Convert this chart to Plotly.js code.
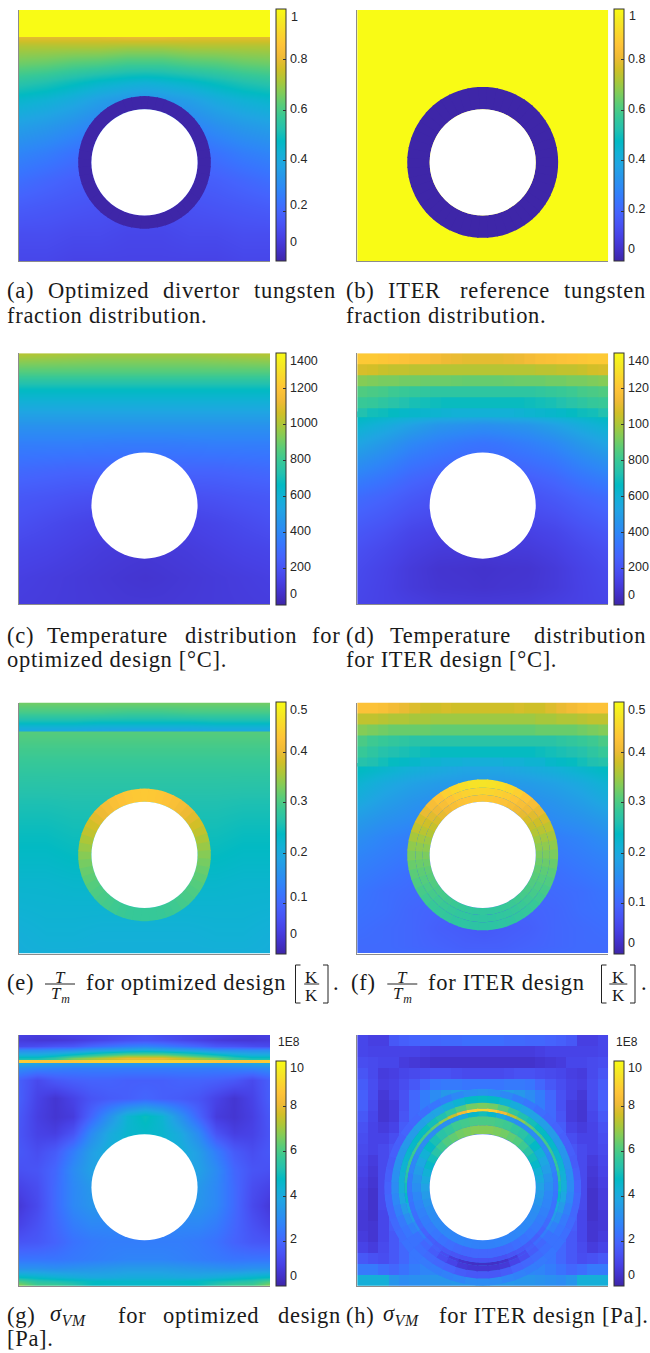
<!DOCTYPE html>
<html><head><meta charset="utf-8">
<script src="https://cdn.plot.ly/plotly-3.0.1.min.js"></script>
<style>
html,body{margin:0;padding:0;background:#fff}
.annotation-text[style*="Liberation Serif"]{letter-spacing:.7px}
</style></head><body><div id="chart" style="width:650px;height:1353px"></div>
<script>
/* parula colour table */
const parula=[[0,'rgb(62,38,168)'],[3,'rgb(67,50,203)'],[6,'rgb(71,65,229)'],[9,'rgb(72,82,244)'],[12,'rgb(69,99,253)'],[15,'rgb(56,117,254)'],[18,'rgb(46,135,247)'],[21,'rgb(39,150,235)'],[24,'rgb(32,165,227)'],[27,'rgb(18,177,214)'],[30,'rgb(2,186,195)'],[33,'rgb(36,193,174)'],[36,'rgb(55,200,151)'],[39,'rgb(87,204,122)'],[42,'rgb(129,204,89)'],[45,'rgb(171,199,57)'],[48,'rgb(209,191,39)'],[51,'rgb(240,186,54)'],[54,'rgb(254,195,56)'],[57,'rgb(250,214,45)'],[60,'rgb(245,233,36)'],[63,'rgb(249,251,21)']].map(s=>[s[0]/63,s[1]]);

/* half-width column positions (mm), mirrored about x=14 */
const cols6=[0,3,6,9,12,14];
const cols8=[0,2,4,6,8,10,12,14];
const blockCols=[0.583,1.75,2.917,4.083,5.25,6.417,7.583,8.75,9.917,11.083,12.25,13.417];

/* (a) optimized tungsten fraction */
const aBandY=[25,28];
const aBandZ=[[1,1]];
const aY=[24.95,24,22,20,18,15,12,9,6,3,0];
const aZ=[[.79,.79,.79,.79,.80,.80],[.72,.72,.72,.72,.71,.71],[.64,.63,.61,.60,.58,.58],[.54,.52,.49,.46,.44,.43],[.45,.43,.40,.36,.33,.32],[.36,.34,.31,.27,.25,.25],[.28,.26,.23,.20,.20,.20],[.22,.20,.18,.17,.16,.16],[.17,.16,.15,.14,.13,.13],[.13,.13,.12,.12,.11,.11],[.11,.11,.10,.10,.10,.10]];
/* (b) ITER tungsten fraction */
const bY=[0,28];
const bZ=[[1,1]];
/* (c) optimized temperature */
const cY=[28,26,24,22,20,18,15,12,9,6,3,0];
const cZ=[[1020,1010,1000,990,990,990],[860,860,860,860,860,860],[670,670,670,670,670,670],[560,560,560,560,560,560],[450,450,450,450,450,450],[370,370,370,365,360,360],[290,280,270,270,270,270],[225,215,200,190,190,190],[190,170,150,135,130,130],[150,140,125,110,100,95],[125,115,105,95,85,80],[115,110,105,100,95,95]];
/* (d) ITER temperature */
const dBandY=[28,26.77,25.55,24.32,23.09,21.87,20.9];
const dBandZ=[[1220,1220,1210,1200,1190,1180,1170,1150,1130,1120,1110,1110],[1080,1070,1050,1040,1040,1030,1030,1020,1020,1020,1020,1020],[940,930,920,920,910,910,900,900,900,895,890,890],[850,840,830,810,800,790,780,770,770,770,770,770],[800,790,770,750,730,710,700,690,680,680,680,680],[730,700,690,670,650,640,630,620,610,600,600,600]];
const dY=[21,20,18,16,14,12,10,8,6,4,2,0];
const dZ=[[680,650,620,590,580,570],[630,580,520,470,450,440],[540,480,410,370,340,330],[450,400,340,310,290,290],[370,330,280,250,240,240],[300,270,230,200,190,190],[260,230,190,170,160,160],[220,190,150,130,130,130],[190,160,125,105,100,95],[170,140,105,80,75,70],[160,135,105,85,80,75],[150,135,125,110,105,105]];
/* (e) optimized T/Tm */
const eBandRowsY=[28,26.9,26,25.3,24.95];
const eBandZ=[[.325,.325,.325,.325,.325,.325],[.295,.295,.295,.295,.29,.29],[.255,.255,.255,.25,.25,.25],[.215,.215,.215,.21,.21,.21],[.20,.20,.20,.195,.19,.19]];
const eY=[24.85,23,20,17,14,11,8,5,2,0];
const eZ=[[.31,.31,.31,.31,.31,.31],[.295,.295,.295,.295,.295,.295],[.275,.275,.275,.275,.275,.275],[.258,.258,.26,.26,.26,.26],[.245,.245,.25,.25,.25,.25],[.235,.235,.24,.24,.24,.24],[.225,.225,.228,.228,.228,.228],[.218,.22,.22,.22,.22,.22],[.21,.215,.215,.212,.212,.212],[.208,.21,.21,.21,.21,.21]];
/* (f) ITER T/Tm */
const fBandY=[28,26.77,25.55,24.32,23.09,21.87,20.9];
const fBandZ=[[.425,.425,.42,.41,.40,.39,.38,.38,.385,.38,.38,.38],[.37,.37,.365,.36,.36,.355,.355,.35,.35,.35,.35,.35],[.335,.33,.325,.32,.32,.32,.32,.315,.315,.315,.315,.315],[.30,.29,.285,.28,.275,.27,.27,.27,.27,.27,.27,.27],[.285,.275,.265,.26,.255,.25,.245,.24,.24,.24,.24,.24],[.265,.26,.25,.24,.235,.23,.22,.22,.215,.215,.21,.21]];
const fY=[20.5,19,17,15,13,11,9,7,5,3,1,0];
const fZ=[[.24,.225,.21,.20,.19,.19],[.22,.20,.185,.175,.17,.17],[.20,.18,.165,.155,.15,.15],[.175,.16,.15,.14,.13,.13],[.155,.14,.13,.12,.12,.12],[.14,.13,.12,.115,.11,.11],[.13,.12,.11,.105,.10,.10],[.12,.11,.105,.10,.10,.10],[.115,.11,.10,.095,.09,.09],[.11,.105,.10,.09,.085,.08],[.105,.105,.10,.095,.09,.09],[.105,.105,.105,.10,.095,.095]];
/* (g) optimized von Mises, units of 1E8 Pa */
const gBandRowsY=[28,27.4,26.8,26.3,25.8,25.4,25.2,25.16,25];
const gBandZ=[[.9,.8,.9,1,1.1,1.2,1.3,1.5],[.8,.7,.7,.8,1,1.2,1.4,1.5],[1.2,1.3,1.5,1.6,2,2.3,2.6,2.8],[3,3,3.1,3.2,3.6,3.8,4,4.2],[4.2,4.2,4.5,5,5.5,6,6.5,6.5],[5,5,5.5,6.5,7,7.5,8,8],[5.4,5.4,5.8,6.6,7,7.4,7.8,7.8],[8.8,8.6,8.6,8.6,8.8,8.9,8.9,8.9],[8.8,8.6,8.6,8.6,8.8,8.9,8.9,8.9]];
const gY=[24.9,24.3,23,21,19,17,15,13,11,9,7,5,3,2,1,.5,0];
const gZ=[[4,3.8,3.6,3.5,3.5,3.5,3.5,3.5],[3,2.8,2.7,2.6,2.6,2.6,2.6,2.6],[1.8,1.2,1.6,1.8,1.9,1.9,1.8,1.8],[1.8,1,.6,1,1.5,1.7,1.8,2],[1.6,.9,.6,.8,2,3.2,4.4,4.9],[1.5,1,.9,1.5,3,4,4.5,4.6],[1.6,1.3,1.7,2.6,3.6,4.2,4.3,4.4],[1.4,1.5,2,3,3.7,3.9,3.9,3.7],[1,1.3,2.1,2.9,3.4,3.5,3.3,3.3],[.7,1.2,2.1,2.9,3.3,3.3,3.1,3],[1,1.4,2,2.6,2.9,2.9,2.8,2.7],[1.5,1.6,1.9,2.3,2.5,2.6,2.6,2.6],[2.4,2.4,2.4,2.5,2.6,2.7,2.8,2.8],[3.2,3.2,3.1,3.2,3.3,3.4,3.5,3.5],[4.8,4.6,4.4,4.2,4,4,4.1,4.1],[6,5.4,5.2,5,4.8,4.7,4.6,4.6],[7,6,6,5.5,4.8,4.6,4.6,4.6]];
/* (h) ITER von Mises, units of 1E8 Pa */
const hEdgesY=[28,26.783,25.565,24.348,23.13,21.913,20.696,19.478,18.261,17.043,15.826,14.609,13.391,12.174,10.957,9.739,8.522,7.304,6.087,4.87,3.652,2.435,1.217,0];
const hZ=[[1.1,.9,.9,1.6,1.8,1.9,2,2,2.1,2.1,2.2,2.2],[1.1,1,1,1,1,1,.9,.8,.8,.8,.8,.8],[1.3,1.2,1.1,1.1,.8,.7,.6,.5,.5,.5,.5,.5],[1.5,1.2,.8,.9,1.1,1.2,1.3,1.4,1.4,1.3,1.2,1.2],[1.7,1.3,.9,1,1.3,1.6,2,2.4,2.5,2.5,2.4,2.4],[1.8,1.3,.7,1,1.4,2,2.6,3,3.4,3.6,3.8,4],[1.8,1.2,.6,.8,1.4,2.1,2.6,3.2,3.2,3.2,3.2,3.2],[1.6,1.1,.6,.8,1.5,2.1,2.4,3,3,3,3,3],[1.4,1,.8,1,1.7,2.2,2.4,2.4,2.4,2.4,2.4,2.4],[1.3,1,1,1.3,1.9,2.2,2.2,2.2,2.2,2.2,2.2,2.2],[1.2,1,1.2,1.5,1.9,1.9,1.9,1.9,1.9,1.9,1.9,1.9],[1.1,.8,1.2,1.7,1.8,1.8,1.8,1.8,1.8,1.8,1.8,1.8],[1,.7,1.2,1.7,1.8,1.8,1.8,1.8,1.8,1.8,1.8,1.8],[.9,.6,1.2,1.8,1.8,1.8,1.8,1.8,1.8,1.8,1.8,1.8],[.8,.5,1.2,1.8,1.8,1.8,1.8,1.8,1.8,1.8,1.8,1.8],[.8,.5,1.2,1.8,2,2,2,2,2,2,2,2],[.7,.5,1.1,1.8,2.1,2.1,2.1,2.1,2.1,2.1,2.1,2.1],[.7,.6,1.1,1.7,2.3,2.4,2.4,2.4,2.4,2.4,2.4,2.4],[.8,.6,1.1,1.6,2.2,2.6,2.6,2.6,2.6,2.6,2.6,2.6],[1,.8,1.2,1.6,2,2.3,2.5,2.6,2.7,2.7,2.7,2.7],[1.6,1.4,1.3,1.6,2,2.4,2.6,2.7,2.8,2.8,2.8,2.8],[2.5,2.5,2.2,2,2.3,2.6,2.8,2.9,3,3,3,3],[4.2,4.2,4.2,3.3,3,3.1,3.2,3.3,3.3,3.4,3.4,3.4]];

/* ring values by angle from the top of the hole, 0..180 deg in 7.5 deg steps */
const ringAlpha=[0,7.5,15,22.5,30,37.5,45,52.5,60,67.5,75,82.5,90,97.5,105,112.5,120,127.5,135,142.5,150,157.5,165,172.5,180];
const ringZero=[0,0,0,0,0,0,0,0,0,0,0,0,0,0,0,0,0,0,0,0,0,0,0,0,0];
const eRing=[.436,.435,.432,.427,.42,.412,.403,.393,.382,.37,.358,.347,.336,.327,.319,.313,.307,.302,.298,.295,.291,.288,.286,.285,.285];
const fRingIn=[.435,.434,.43,.425,.417,.408,.398,.386,.374,.362,.35,.34,.33,.322,.315,.31,.305,.3,.296,.292,.288,.284,.281,.28,.28];
const fRingMid=[.452,.451,.446,.44,.43,.419,.407,.393,.38,.366,.352,.341,.33,.321,.313,.307,.301,.296,.291,.287,.283,.28,.278,.276,.276];
const fRingOut=[.47,.468,.462,.454,.443,.43,.416,.4,.385,.37,.355,.342,.33,.32,.311,.304,.297,.291,.286,.282,.279,.276,.274,.273,.273];
const hRing1=[6.7,6.7,6.6,6.5,6.3,6.1,5.8,5.4,5,4.6,4.3,4,3.7,3.5,3.3,3.1,3,2.95,2.9,2.85,2.8,2.8,2.75,2.7,2.7];
const hRing2=[6,6,5.9,5.8,5.6,5.4,5.1,4.7,4.3,3.9,3.6,3.3,3.1,2.9,2.8,2.7,2.6,2.5,2.4,2.3,2.2,2.1,2,2,2];
const hRing3=[5,4.6,4,3.4,3.1,3,3,3,3,2.9,2.8,2.6,2.5,2.4,2.3,2.2,2.1,1.9,1.8,1.7,1.6,1.5,1.4,1.4,1.4];
const hHalo1=[9,8.8,8.2,7.4,6.8,6.3,6,5.9,5.8,5.7,5.6,5.3,5,4.6,4,3.5,3,2.6,2.2,1.8,1.3,.8,.5,.4,.4];
const hHalo2=[6.6,6.5,6.1,5.6,5.2,5,4.8,4.7,4.6,4.5,4.4,4.3,4.2,3.9,3.5,3.1,2.7,2.3,2,1.7,1.3,1,.7,.6,.6];
const hHalo3=[4.8,4.7,4.4,4.1,3.8,3.7,3.6,3.5,3.4,3.3,3.2,3.1,3,2.9,2.7,2.5,2.4,2.3,2.2,2.1,2,1.9,1.7,1.6,1.6];
const hHalo4=[3.2,3.1,2.9,2.6,2.4,2.2,2,1.9,1.8,1.8,1.7,1.8,1.9,2,2,2.1,2.2,2.3,2.4,2.5,2.6,2.7,2.8,3,3];

/* radii, mm */
const holeR=5.92, ringOptR=7.4, ringIterR=8.42;

/* colour bar tick values and label texts */
const ticks01=[0,.2,.4,.6,.8,1];
const ticksT=[0,200,400,600,800,1000,1200,1400];
const ticksR=[0,.1,.2,.3,.4,.5];
const ticksS=[0,2,4,6,8,10];
const labelsA=['0','0.2','0.4','0.6','0.8','1'];
const labelsC=['0','200','400','600','800','1000','1200','1400'];
const labelsD=['0','200','400','600','800','100','120','140'];
const labelsE=['0','0.1','0.2','0.3','0.4','0.5'];
const labelsG=['0','2','4','6','8','10'];
/* label centres as printed, px from the top of the page */
const labelPosA=[241.7,205,159,109.3,59.3,16.7];
const labelPosB=[249.3,209.3,159,109.3,59.3,16];
const labelPosC=[594,566.7,531,495,459,423.3,387.7,360.7];
const labelPosD=[594.7,566.7,531.7,496,460,424,387.7,360.7];
const labelPosE=[934.3,896.7,851.7,801,750.7,710];
const labelPosF=[943.3,901.7,851.7,801,751.7,710];
const labelPosG=[1276,1239.3,1195,1150,1105,1068.3];
const labelPosH=[1275,1239,1194.3,1149,1105,1068];

const W=650,H=1353,PW=251;
const X0=[19,357.2], Y0=[10,353.2,702.5,1035];
const px=x=>x/W, py=y=>1-y/H;
const mirror=r=>r.concat(r.slice(0,-1).reverse());
const mirrorFull=r=>r.concat(r.slice().reverse());
const mirrorX=c=>c.concat(c.slice(0,-1).reverse().map(v=>28-v));
const mirrorXFull=c=>c.concat(c.slice().reverse().map(v=>28-v));

const traces=[],layout={width:W,height:H,autosize:false,margin:{l:0,r:0,t:0,b:0,pad:0},paper_bgcolor:'#fff',plot_bgcolor:'#fff',showlegend:false,shapes:[],annotations:[]};

function panel(i,col,row,opt){
  const n=i===1?'':i, x0=X0[col], y0=Y0[row], y1=y0+PW-(row===3?.3:0);
  layout['xaxis'+n]={domain:[px(x0),px(x0+PW)],range:[0,28],anchor:'y'+n,showgrid:false,zeroline:false,showticklabels:false,ticks:'',showline:true,linecolor:'#8c8c8c',linewidth:1,fixedrange:true};
  layout['yaxis'+n]={domain:[py(y1),py(y0)],range:[0,28],anchor:'x'+n,showgrid:false,zeroline:false,showticklabels:false,ticks:'',showline:true,linecolor:'#8c8c8c',linewidth:1,fixedrange:true};
  const cbTop=opt.cbTop===undefined?y0:opt.cbTop;
  layout['coloraxis'+n]={colorscale:parula,cmin:opt.cmin,cmax:opt.cmax,colorbar:{
    x:px(x0+PW+5.5),xanchor:'left',y:py(y1+.5),yanchor:'bottom',lenmode:'pixels',len:y1+.5-cbTop,thicknessmode:'pixels',thickness:10,
    xpad:0,ypad:0,outlinecolor:'#333',outlinewidth:1,borderwidth:0,tickmode:'array',tickvals:opt.ticks,ticks:'inside',ticklen:3,tickwidth:1,tickcolor:'#333',showticklabels:false}};
  const ax={xaxis:'x'+n,yaxis:'y'+n,coloraxis:'coloraxis'+n,type:'heatmap',hoverinfo:'skip'};
  (opt.layers||[]).forEach(l=>traces.push(Object.assign({},ax,l)));
  /* colour bar labels */
  opt.labels.forEach((t,k)=>layout.annotations.push({xref:'paper',yref:'paper',x:px(x0+PW+19.2+(t==='1'?1:0)),y:py(opt.labelPos[k]),xanchor:'left',yanchor:'middle',showarrow:false,text:t,borderpad:0,font:{family:'"Liberation Sans",Arial,sans-serif',size:12.5,color:'#262626'}}));
  if(opt.exp) layout.annotations.push({xref:'paper',yref:'paper',x:px(x0+PW+6.5),y:py(1042.3),xanchor:'left',yanchor:'middle',showarrow:false,text:opt.exp,borderpad:0,font:{family:'"Liberation Sans",Arial,sans-serif',size:12,color:'#262626'}});
  /* rings as polar bars sharing the panel's colour axis */
  if(opt.rings){
    const half=11*PW/28, cx=x0+PW/2, cy=y1-11*PW/28, pn='polar'+n;
    layout[pn]={domain:{x:[px(cx-half),px(cx+half)],y:[py(cy+half),py(cy-half)]},bgcolor:'rgba(0,0,0,0)',barmode:'overlay',bargap:0,
      radialaxis:{visible:false,range:[0,11]},angularaxis:{visible:false,rotation:90,direction:'clockwise',thetaunit:'degrees'}};
    const th=ringAlpha.concat(ringAlpha.slice(1,-1).map(a=>360-a).reverse());
    opt.rings.forEach(r=>{
      const vals=mirror(r.v);
      traces.push({type:'barpolar',subplot:pn,theta:th,base:th.map(()=>r.r0),r:th.map(()=>r.r1-r.r0),width:th.map(()=>8.5),hoverinfo:'skip',
        marker:{color:vals,coloraxis:'coloraxis'+n,line:{width:0}}});
    });
  }
  /* the cooling-pipe bore */
  layout.shapes.push({type:'circle',xref:'x'+n,yref:'y'+n,x0:14-holeR,x1:14+holeR,y0:11-holeR,y1:11+holeR,fillcolor:'#fff',line:{width:0},layer:'above'});
}
const smooth=(y,z,c)=>({x:mirrorX(c),y:y,z:z.map(mirror),zsmooth:'best'});
const blocks=(y,z)=>({x:mirrorXFull(blockCols),y:y,z:z.map(mirrorFull),zsmooth:false});

panel(1,0,0,{cmin:0,cmax:1,ticks:ticks01,labels:labelsA,labelPos:labelPosA,
  layers:[smooth(aY,aZ,cols6),{x:[0,28],y:aBandY,z:aBandZ.map(r=>[r[0]]),zsmooth:false}],
  rings:[{r0:holeR,r1:ringOptR,v:ringZero}]});
panel(2,1,0,{cmin:0,cmax:1,ticks:ticks01,labels:labelsA,labelPos:labelPosB,
  layers:[{x:[0,28],y:bY,z:bZ.map(r=>[r[0]]),zsmooth:false}],
  rings:[{r0:holeR,r1:ringIterR,v:ringZero}]});
panel(3,0,1,{cmin:0,cmax:1400,ticks:ticksT,labels:labelsC,labelPos:labelPosC,layers:[smooth(cY,cZ,cols6)]});
panel(4,1,1,{cmin:0,cmax:1400,ticks:ticksT,labels:labelsD,labelPos:labelPosD,
  layers:[smooth(dY,dZ,cols6),blocks(dBandY,dBandZ)]});
panel(5,0,2,{cmin:0,cmax:.5,ticks:ticksR,labels:labelsE,labelPos:labelPosE,
  layers:[smooth(eY,eZ,cols6),smooth(eBandRowsY,eBandZ,cols6)],
  rings:[{r0:holeR,r1:ringOptR,v:eRing}]});
panel(6,1,2,{cmin:0,cmax:.5,ticks:ticksR,labels:labelsE,labelPos:labelPosF,
  layers:[smooth(fY,fZ,cols6),blocks(fBandY,fBandZ)],
  rings:[{r0:holeR,r1:6.7,v:fRingIn},{r0:6.7,r1:7.5,v:fRingMid},{r0:7.5,r1:ringIterR,v:fRingOut}]});
panel(7,0,3,{cmin:0,cmax:10,cbTop:1061.7,exp:'1E8',ticks:ticksS,labels:labelsG,labelPos:labelPosG,
  layers:[smooth(gY,gZ,cols8),smooth(gBandRowsY,gBandZ,cols8)]});
panel(8,1,3,{cmin:0,cmax:10,cbTop:1061.7,exp:'1E8',ticks:ticksS,labels:labelsG,labelPos:labelPosH,
  layers:[blocks(hEdgesY,hZ)],
  rings:[{r0:10.2,r1:11,v:hHalo4},{r0:9.4,r1:10.2,v:hHalo3},{r0:8.75,r1:9.4,v:hHalo2},{r0:8.42,r1:8.75,v:hHalo1},{r0:7.9,r1:8.42,v:hRing3},{r0:6.9,r1:7.9,v:hRing2},{r0:holeR,r1:6.9,v:hRing1}]});

/* captions */
const SERIF='"Liberation Serif","Times New Roman",serif';
function cap(text,x,base,o){o=o||{};const s=o.size||22.5;
  layout.annotations.push({xref:'paper',yref:'paper',x:px(x-(o.anchor?0:1)),y:py(base-s*.29),xanchor:o.anchor||'left',yanchor:'middle',showarrow:false,borderpad:0,text:text,
    font:{family:SERIF,size:s,color:'#1a1a1a'}});}
const sigma='<i>σ<sub>VM</sub></i>';
[[ '(a)',7.3],['Optimized',48.3],['divertor',162.7],['tungsten',254]].forEach(a=>cap(a[0],a[1],297));
cap('fraction distribution.',7.3,322);
[['(b)',345.7],['ITER',388.3],['reference',460],['tungsten',564]].forEach(a=>cap(a[0],a[1],297));
cap('fraction distribution.',345.7,322);
[['(c)',7.3],['Temperature',46.7],['distribution',185],['for',311.7]].forEach(a=>cap(a[0],a[1],641.7));
cap('optimized design [°C].',7.3,666);
[['(d)',345.7],['Temperature',390],['distribution',534]].forEach(a=>cap(a[0],a[1],641.7));
cap('for ITER design [°C].',345.7,666);
cap('(e)',7.3,989.3); cap('for optimized design',86,989.3); cap('.',333,989.3);
cap('(f)',350.7,989.3); cap('for ITER design',428.3,989.3); cap('.',641,989.3);
[['(g)',7.3],[sigma,50],['for',118.3],['optimized',162.7],['design',277.7]].forEach(a=>cap(a[0],a[1],1321.7));
cap('[Pa].',7.3,1345);
[['(h)',345.7],[sigma,383.3],['for ITER design [Pa].',439]].forEach(a=>cap(a[0],a[1],1321.7));

/* fractions and brackets of (e), (f) */
function frac(top,bot,cx,hw){
  cap(top,cx,982,{anchor:'center',size:17}); cap(bot,cx,1000,{anchor:'center',size:17});
  layout.shapes.push({type:'line',xref:'paper',yref:'paper',x0:px(cx-hw),x1:px(cx+hw),y0:py(984),y1:py(984),line:{color:'#222',width:1},layer:'above'});
}
function bracket(x,d){
  layout.shapes.push({type:'path',xref:'paper',yref:'paper',path:`M ${px(x+d*5)} ${py(965)} L ${px(x)} ${py(965)} L ${px(x)} ${py(1003)} L ${px(x+d*5)} ${py(1003)}`,line:{color:'#222',width:1},layer:'above'});
}
frac('<i>T</i>','<i>T<sub>m</sub></i>',60,15); frac('K','K',311.7,7.5); bracket(295.5,1); bracket(328,-1);
frac('<i>T</i>','<i>T<sub>m</sub></i>',402.3,15); frac('K','K',618.3,9); bracket(601.5,1); bracket(635,-1);

Plotly.newPlot('chart',traces,layout,{displayModeBar:false,staticPlot:true}).then(gd=>{
  gd.querySelectorAll('text').forEach(t=>{if(!t.textContent.trim())t.remove();});
});
</script></body></html>
